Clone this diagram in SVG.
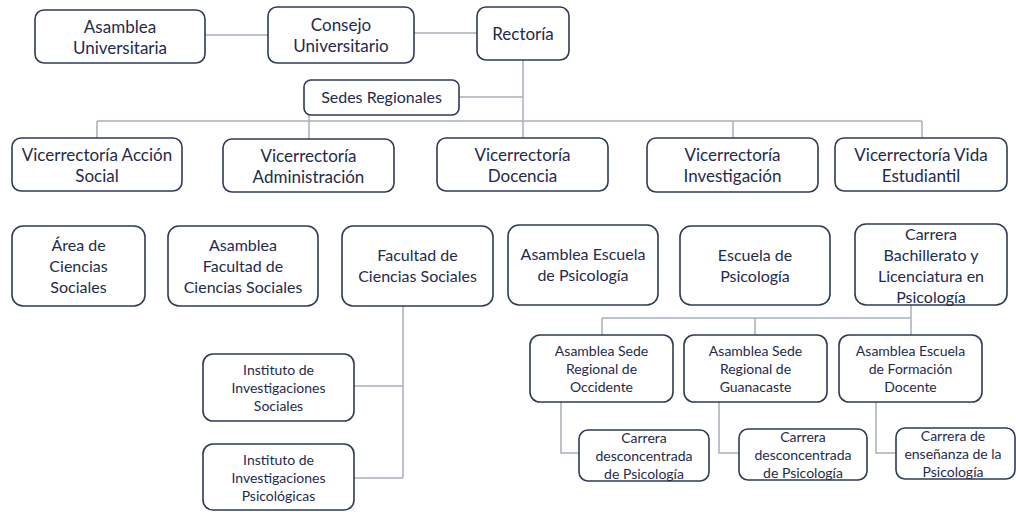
<svg xmlns="http://www.w3.org/2000/svg" width="1016" height="512" viewBox="0 0 1016 512">
<style>
.box{fill:#ffffff;stroke:#2f3a56;stroke-width:1.6}
.t{font-family:Lato,"Open Sans",sans-serif;fill:#1f2b4a;text-anchor:middle}
.l{font-size:17px}
.m{font-size:16px}
.s{font-size:14px}
.c{fill:none;stroke:#a9aebb;stroke-width:1.5}
</style>
<rect width="1016" height="512" fill="#ffffff"/>
<g id="connectors">
<path class="c" d="M205 35H268"/>
<path class="c" d="M414 33H477"/>
<path class="c" d="M523 60V121"/>
<path class="c" d="M459 97H523"/>
<path class="c" d="M309 115V139"/>
<path class="c" d="M97 121H922"/>
<path class="c" d="M97 121V138"/>
<path class="c" d="M523 121V138"/>
<path class="c" d="M733 121V138"/>
<path class="c" d="M922 121V138"/>
<path class="c" d="M403 306V478"/>
<path class="c" d="M354 386H403"/>
<path class="c" d="M354 478H403"/>
<path class="c" d="M911 305V318"/>
<path class="c" d="M602 318H911"/>
<path class="c" d="M602 318V335"/>
<path class="c" d="M755 318V335"/>
<path class="c" d="M911 318V335"/>
<path class="c" d="M561 402V453H579"/>
<path class="c" d="M719 402V453H739"/>
<path class="c" d="M876 402V453H896"/>
</g>
<g id="asamblea-universitaria"><rect class="box" x="35" y="10" width="170" height="53" rx="9"/><text class="t l" x="120" y="32.5">Asamblea</text><text class="t l" x="120" y="54">Universitaria</text></g>
<g id="consejo-universitario"><rect class="box" x="268" y="7" width="146" height="56" rx="9"/><text class="t l" x="341" y="30.5">Consejo</text><text class="t l" x="341" y="52">Universitario</text></g>
<g id="rectoria"><rect class="box" x="477" y="7" width="92" height="53" rx="9"/><text class="t l" x="523" y="40">Rectoría</text></g>
<g id="sedes-regionales"><rect class="box" x="304" y="80" width="155" height="35" rx="7"/><text class="t m" x="381.5" y="103">Sedes Regionales</text></g>
<g id="vr-accion-social"><rect class="box" x="12" y="138" width="170" height="53" rx="9"/><text class="t l" x="97" y="160.5">Vicerrectoría Acción</text><text class="t l" x="97" y="181.5">Social</text></g>
<g id="vr-administracion"><rect class="box" x="223" y="139" width="171" height="53" rx="9"/><text class="t l" x="308.5" y="161.5">Vicerrectoría</text><text class="t l" x="308.5" y="182.5">Administración</text></g>
<g id="vr-docencia"><rect class="box" x="437" y="138" width="171" height="53" rx="9"/><text class="t l" x="522.5" y="160.5">Vicerrectoría</text><text class="t l" x="522.5" y="181.5">Docencia</text></g>
<g id="vr-investigacion"><rect class="box" x="647" y="138" width="171" height="54" rx="9"/><text class="t l" x="732.5" y="161">Vicerrectoría</text><text class="t l" x="732.5" y="182">Investigación</text></g>
<g id="vr-vida-estudiantil"><rect class="box" x="835" y="138" width="172" height="53" rx="9"/><text class="t l" x="921" y="160.5">Vicerrectoría Vida</text><text class="t l" x="921" y="181.5">Estudiantil</text></g>
<g id="area-ciencias-sociales"><rect class="box" x="12" y="226" width="133" height="80" rx="11"/><text class="t m" x="78.5" y="250.8">Área de</text><text class="t m" x="78.5" y="271.8">Ciencias</text><text class="t m" x="78.5" y="292.8">Sociales</text></g>
<g id="asamblea-facultad"><rect class="box" x="168" y="226" width="150" height="80" rx="11"/><text class="t m" x="243" y="250.8">Asamblea</text><text class="t m" x="243" y="271.8">Facultad de</text><text class="t m" x="243" y="292.8">Ciencias Sociales</text></g>
<g id="facultad-ciencias-sociales"><rect class="box" x="342" y="226" width="151" height="80" rx="11"/><text class="t m" x="417.5" y="261">Facultad de</text><text class="t m" x="417.5" y="282">Ciencias Sociales</text></g>
<g id="asamblea-escuela-psicologia"><rect class="box" x="508" y="225" width="150" height="80" rx="11"/><text class="t m" x="583" y="260">Asamblea Escuela</text><text class="t m" x="583" y="281">de Psicología</text></g>
<g id="escuela-psicologia"><rect class="box" x="680" y="226" width="150" height="79" rx="11"/><text class="t m" x="755" y="260.5">Escuela de</text><text class="t m" x="755" y="281.5">Psicología</text></g>
<g id="carrera-bachillerato"><rect class="box" x="855" y="224" width="152" height="81" rx="11"/><text class="t m" x="931" y="239.8">Carrera</text><text class="t m" x="931" y="260.8">Bachillerato y</text><text class="t m" x="931" y="281.8">Licenciatura en</text><text class="t m" x="931" y="302.8">Psicología</text></g>
<g id="instituto-sociales"><rect class="box" x="203" y="354" width="151" height="67" rx="10"/><text class="t s" x="278.5" y="375">Instituto de</text><text class="t s" x="278.5" y="393">Investigaciones</text><text class="t s" x="278.5" y="411">Sociales</text></g>
<g id="instituto-psicologicas"><rect class="box" x="203" y="444" width="151" height="66" rx="10"/><text class="t s" x="278.5" y="465">Instituto de</text><text class="t s" x="278.5" y="483">Investigaciones</text><text class="t s" x="278.5" y="501">Psicológicas</text></g>
<g id="asamblea-sede-occidente"><rect class="box" x="530" y="335" width="143" height="67" rx="10"/><text class="t s" x="601.5" y="356">Asamblea Sede</text><text class="t s" x="601.5" y="374">Regional de</text><text class="t s" x="601.5" y="392">Occidente</text></g>
<g id="asamblea-sede-guanacaste"><rect class="box" x="684" y="335" width="143" height="67" rx="10"/><text class="t s" x="755.5" y="356">Asamblea Sede</text><text class="t s" x="755.5" y="374">Regional de</text><text class="t s" x="755.5" y="392">Guanacaste</text></g>
<g id="asamblea-escuela-formacion"><rect class="box" x="839" y="335" width="143" height="67" rx="10"/><text class="t s" x="910.5" y="356">Asamblea Escuela</text><text class="t s" x="910.5" y="374">de Formación</text><text class="t s" x="910.5" y="392">Docente</text></g>
<g id="carrera-occidente"><rect class="box" x="579" y="430" width="130" height="51" rx="9"/><text class="t s" x="644" y="443">Carrera</text><text class="t s" x="644" y="461">desconcentrada</text><text class="t s" x="644" y="479">de Psicología</text></g>
<g id="carrera-guanacaste"><rect class="box" x="739" y="429" width="128" height="51" rx="9"/><text class="t s" x="803" y="442">Carrera</text><text class="t s" x="803" y="460">desconcentrada</text><text class="t s" x="803" y="478">de Psicología</text></g>
<g id="carrera-ensenanza"><rect class="box" x="896" y="428" width="119" height="51" rx="9"/><text class="t s" x="953" y="441">Carrera de</text><text class="t s" x="953" y="459">enseñanza de la</text><text class="t s" x="953" y="477">Psicología</text></g>
</svg>
